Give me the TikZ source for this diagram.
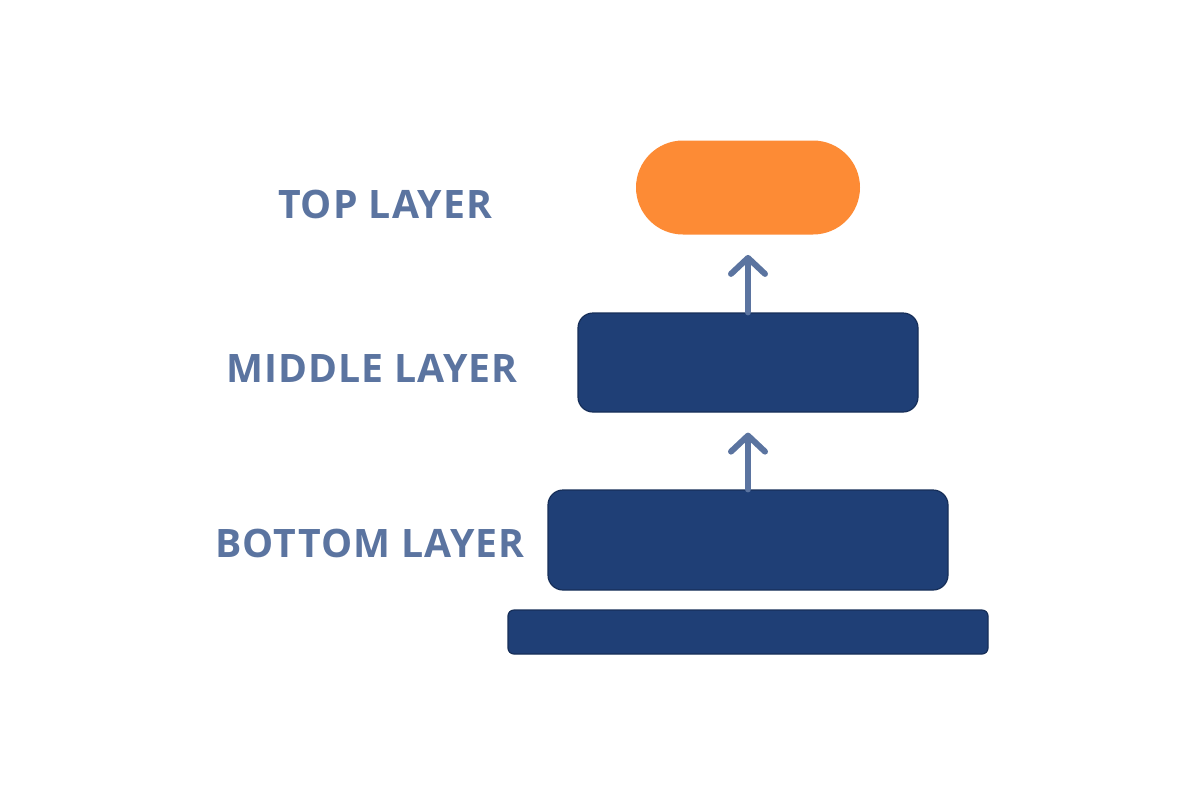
\documentclass[tikz,border=0pt]{standalone}
\usepackage{fontspec}
\setmainfont{Open Sans}[LetterSpace=2.5]
\usetikzlibrary{arrows.meta}
\definecolor{layerblue}{HTML}{1F3F76}
\definecolor{layeredge}{HTML}{162E58}
\definecolor{layerorange}{HTML}{FD8B35}
\definecolor{labelblue}{HTML}{5B74A0}
\tikzset{
  layerbox/.style={draw=layeredge, line width=0.6pt, fill=layerblue, rounded corners=7.5pt, inner sep=0pt},
  layerlabel/.style={text=labelblue, font=\fontsize{19.6}{24}\selectfont\bfseries, inner sep=0pt},
  uparrow/.style={draw=labelblue, line width=3pt, line cap=round, shorten >=10pt,
    -{Straight Barb[round, length=8pt, width=17pt]}}
}
\begin{document}
\begin{tikzpicture}[x=0.5pt, y=-0.5pt, line cap=round, line join=round]
    \useasboundingbox (0,0) rectangle (1200,800);
    % layers
    \node[fill=layerorange, rounded corners=23.5pt, minimum width=112pt, minimum height=47pt, inner sep=0pt] (toplayer) at (748,187.5) {};
    \node[layerbox, minimum width=170pt, minimum height=49.5pt] (midlayer) at (748,362.5) {};
    \node[layerbox, minimum width=200pt, minimum height=50pt] (botlayer) at (748,540) {};
    \node[layerbox, rounded corners=3pt, minimum width=240pt, minimum height=22pt] (base) at (748,632) {};
    % labels
    \node[layerlabel] (toplabel) at (385,204) {TOP LAYER};
    \node[layerlabel] (midlabel) at (372,368) {MIDDLE LAYER};
    \node[layerlabel] (botlabel) at (370,543) {BOTTOM LAYER};
    % arrows
    \draw[uparrow] (midlayer.north) -- (toplayer.south);
    \draw[uparrow] (botlayer.north) -- (midlayer.south);
\end{tikzpicture}
\end{document}
